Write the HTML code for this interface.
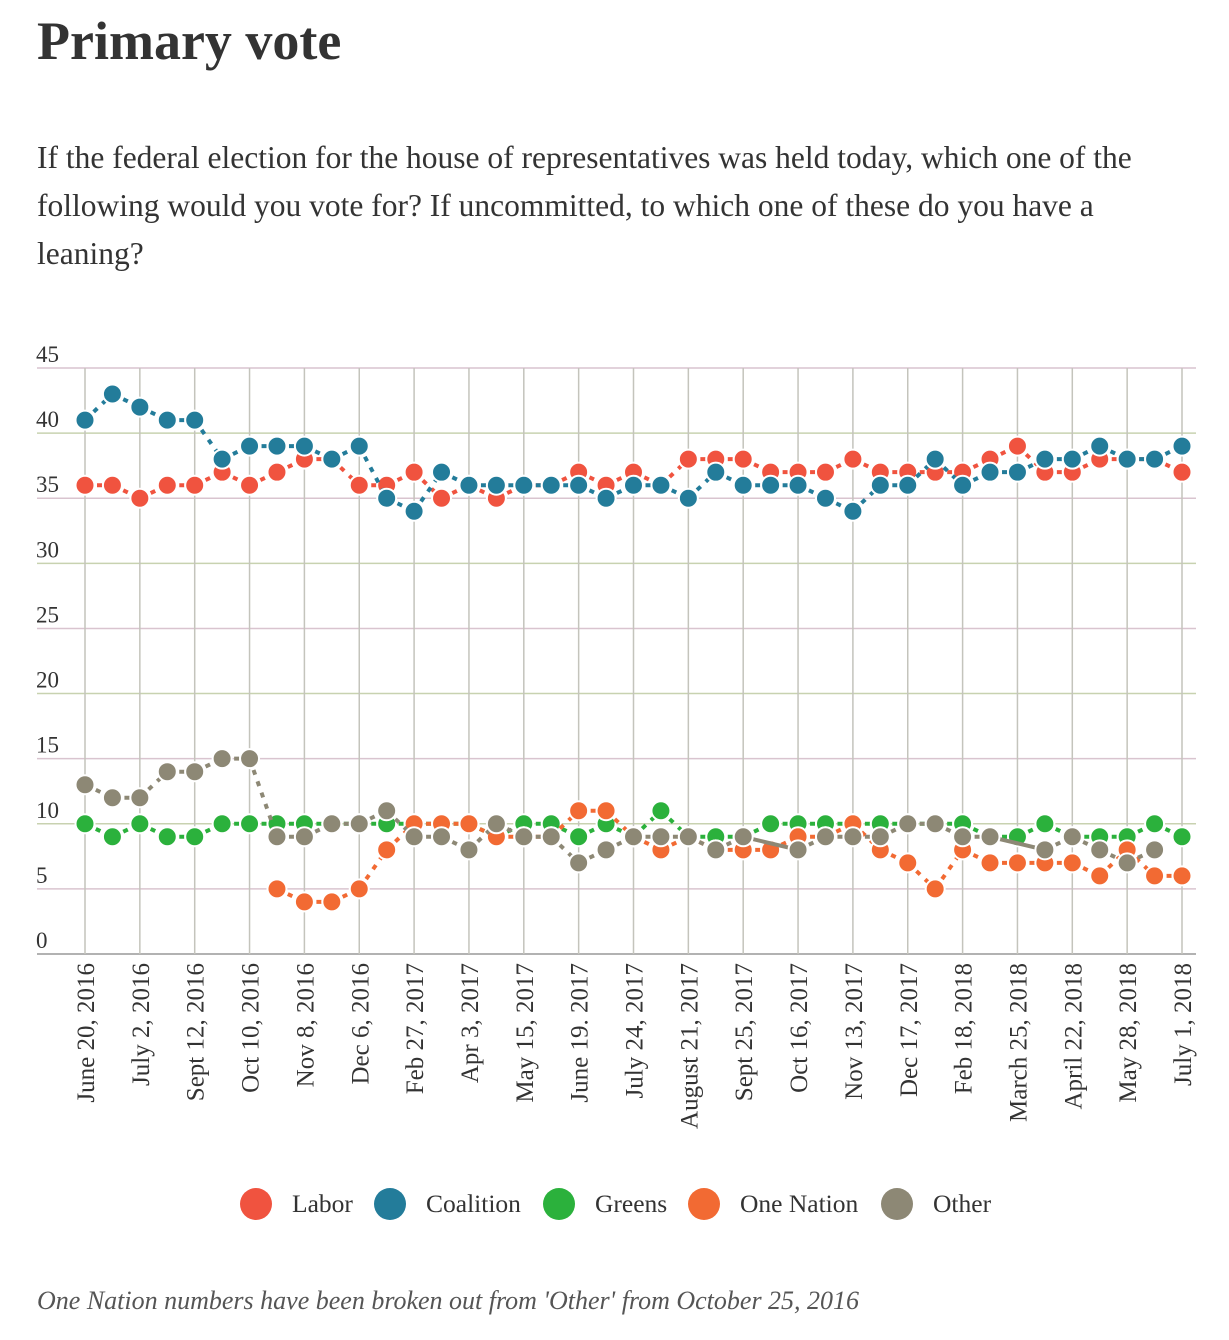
<!DOCTYPE html>
<html><head><meta charset="utf-8">
<style>
body{margin:0;background:#fff;width:1229px;height:1340px;overflow:hidden;font-family:"Liberation Serif",serif;color:#333}
h1{position:absolute;left:37px;top:10px;margin:0;font-size:54px;font-weight:bold;color:#333}
p.sub{position:absolute;left:37px;top:134px;margin:0;width:1130px;font-size:31.5px;line-height:48px;color:#333}
p.note{position:absolute;left:37px;top:1286px;margin:0;font-size:26px;font-style:italic;color:#555}
svg{position:absolute;left:0;top:0}
</style></head><body>
<h1>Primary vote</h1>
<p class="sub">If the federal election for the house of representatives was held today, which one of the following would you vote for? If uncommitted, to which one of these do you have a leaning?</p>
<svg id="chart" width="1229" height="1340"></svg>
<p class="note">One Nation numbers have been broken out from 'Other' from October 25, 2016</p>
<script>
const xLabels=["June 20, 2016","July 2, 2016","Sept 12, 2016","Oct 10, 2016","Nov 8, 2016","Dec 6, 2016","Feb 27, 2017","Apr 3, 2017","May 15, 2017","June 19. 2017","July 24, 2017","August 21, 2017","Sept 25, 2017","Oct 16, 2017","Nov 13, 2017","Dec 17, 2017","Feb 18, 2018","March 25, 2018","April 22, 2018","May 28, 2018","July 1, 2018"];
const yTicks=[0,5,10,15,20,25,30,35,40,45];
const seriesNames=["Labor","Coalition","Greens","One Nation","Other"];
const labor=[36,36,35,36,36,37,36,37,38,38,36,36,37,35,36,35,36,36,37,36,37,36,38,38,38,37,37,37,38,37,37,37,37,38,39,37,37,38,38,38,37];
const coalition=[41,43,42,41,41,38,39,39,39,38,39,35,34,37,36,36,36,36,36,35,36,36,35,37,36,36,36,35,34,36,36,38,36,37,37,38,38,39,38,38,39];
const greens=[10,9,10,9,9,10,10,10,10,10,10,10,10,10,10,9,10,10,9,10,9,11,9,9,9,10,10,10,10,10,10,10,10,9,9,10,9,9,9,10,9];
const oneNation=[null,null,null,null,null,null,null,5,4,4,5,8,10,10,10,9,9,9,11,11,9,8,9,8,8,8,9,9,10,8,7,5,8,7,7,7,7,6,8,6,6];
const other=[13,12,12,14,14,15,15,9,9,10,10,11,9,9,8,10,9,9,7,8,9,9,9,8,9,null,8,9,9,9,10,10,9,9,null,8,9,8,7,8,null];
const colors=["#f0533f","#237c9a","#2bb13c","#f26a33","#8d8875"];
const NS="http://www.w3.org/2000/svg";
const svg=document.getElementById('chart');
const X0=85,X1=1182,Y0=954,Y45=368,N=41;
const x=i=>X0+(X1-X0)*i/(N-1);
const y=v=>Y0-(Y0-Y45)*v/45;
function mk(t,a,p){const e=document.createElementNS(NS,t);for(const k in a)e.setAttribute(k,a[k]);(p||svg).appendChild(e);return e;}
yTicks.forEach((t,k)=>{
  const l=mk('line',{x1:37,x2:1196,y1:y(t),y2:y(t),stroke:k===0?'#999':(k%2?'#d9c4cf':'#c8d2b0'),'stroke-width':1.5});
  
  
  const tx=mk('text',{x:36,y:y(t)-6,'font-size':23,fill:'#333','font-family':'Liberation Serif, serif'});
  tx.textContent=t;
  
  
});
xLabels.forEach((lab,k)=>{
  const xx=x(k*2);
  const l=mk('line',{x1:xx,x2:xx,y1:Y45,y2:Y0,stroke:'#c4c4bc','stroke-width':1.5});
  
  
  const tx=mk('text',{x:0,y:0,'font-size':25,fill:'#333','text-anchor':'end','font-family':'Liberation Serif, serif',transform:`translate(${xx+9},963) rotate(-90)`});
  tx.textContent=lab;
  
  
});
const all=[labor,coalition,greens,oneNation,other];
all.forEach((arr,s)=>{
  const g=mk('g',{});
  
  
  let prev=-1;
  arr.forEach((v,i)=>{
    if(v===null)return;
    if(prev>=0){
      const gap=i-prev>1;
      const ln=mk('line',{x1:x(prev),y1:y(arr[prev]),x2:x(i),y2:y(v),stroke:colors[s],'stroke-width':4,'stroke-dasharray':gap?'none':'5 7'},g);
      
      
    }
    prev=i;
  });
  arr.forEach((v,i)=>{
    if(v===null)return;
    const c=mk('circle',{cx:x(i),cy:y(v),r:9.5,fill:colors[s],stroke:'#fff','stroke-width':2},g);
    
    
  });
});
const lx=[256,390,559,704,897];
seriesNames.forEach((n,s)=>{
  const c=mk('circle',{cx:lx[s],cy:1204,r:16,fill:colors[s]});
  
  
  const t=mk('text',{x:lx[s]+36,y:1212,'font-size':25.5,fill:'#333','font-family':'Liberation Serif, serif'});
  t.textContent=n;
  
  
});
</script>
</body></html>
